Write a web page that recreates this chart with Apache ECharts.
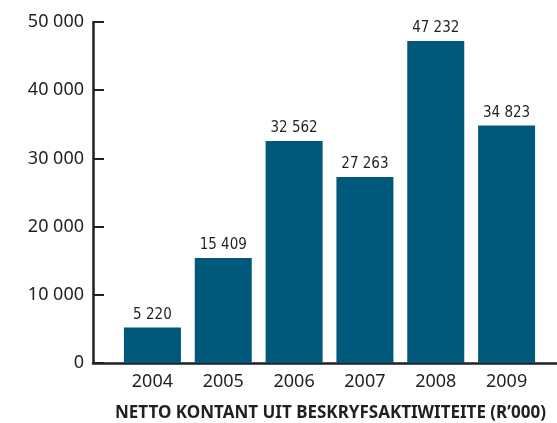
<!DOCTYPE html>
<html>
<head>
<meta charset="utf-8">
<script src="https://cdn.jsdelivr.net/npm/echarts@6/dist/echarts.min.js"></script>
<style>
html,body{margin:0;padding:0;background:#fff;}
#main{width:557px;height:423px;}
</style>
</head>
<body>
<div id="main"></div>
<script>
var years = ['2004', '2005', '2006', '2007', '2008', '2009'];
var values = [5220, 15409, 32562, 27263, 47232, 34823];
var yTicks = [0, 10000, 20000, 30000, 40000, 50000];

function fmt(v) {
    return String(v).replace(/\B(?=(\d{3})+(?!\d))/g, ' ');
}

var myChart = echarts.init(document.getElementById('main'));
var option = {
    animation: false,
    title: {
        text: 'NETTO KONTANT UIT BESKRYFSAKTIWITEITE (R\u2019000)',
        left: 110,
        top: 400,
        textStyle: {fontFamily: 'Noto Sans', fontWeight: 'bold', fontSize: 17, color: '#231f20'}
    },
    grid: [
        {left: 117, right: 15, top: 22, bottom: 60},
        {left: 93, right: 0, top: 22, bottom: 60}
    ],
    xAxis: [{
        type: 'category',
        gridIndex: 0,
        data: years,
        axisLine: {show: false},
        axisTick: {show: false},
        axisLabel: {margin: 10, fontFamily: 'Noto Sans', fontSize: 18, color: '#231f20'}
    }, {
        type: 'value',
        gridIndex: 1,
        min: 0, max: 1,
        axisLine: {show: true, lineStyle: {color: '#231f20', width: 2.5}},
        axisTick: {show: false},
        axisLabel: {show: false},
        splitLine: {show: false}
    }],
    yAxis: [{
        type: 'value',
        gridIndex: 0,
        min: 0, max: 50000, interval: 10000,
        show: false
    }, {
        type: 'value',
        gridIndex: 1,
        min: yTicks[0], max: yTicks[yTicks.length - 1], interval: 10000,
        axisLine: {show: true, lineStyle: {color: '#231f20', width: 2.5}},
        axisTick: {show: true, inside: true, length: 11, lineStyle: {color: '#231f20', width: 2}},
        splitLine: {show: false},
        axisLabel: {
            margin: 9,
            fontFamily: 'Noto Sans', fontSize: 18, color: '#231f20',
            formatter: function(v) { return fmt(v); }
        }
    }],
    series: [{
        type: 'bar',
        xAxisIndex: 0,
        yAxisIndex: 0,
        data: values,
        barWidth: 57,
        itemStyle: {color: '#00587a'},
        label: {
            show: true,
            position: 'top',
            distance: 5,
            fontFamily: 'DejaVu Sans Condensed',
            fontSize: 15,
            color: '#231f20',
            formatter: function(p) { return fmt(p.value); }
        }
    }]
};
myChart.setOption(option);
</script>
</body>
</html>
